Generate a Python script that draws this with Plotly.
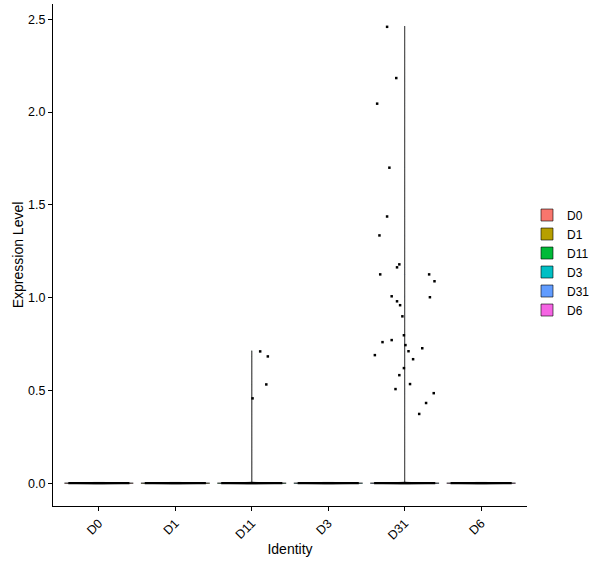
import plotly.graph_objects as go

# ---- data ----
groups = ["D0", "D1", "D11", "D3", "D31", "D6"]
colors = ["#F8766D", "#B79F00", "#00BA38", "#00BFC4", "#619CFF", "#F564E3"]
n_zero = [400, 380, 360, 420, 340, 390]          # cells with zero expression (band at 0)

d11_values = [0.710, 0.683, 0.532, 0.457]
d11_jitter = [0.11, 0.21, 0.19, 0.01]

d31_values = [2.459, 2.183, 2.045, 1.700, 1.437, 1.335, 1.179, 1.163, 1.125, 1.125,
              1.088, 1.007, 1.002, 0.980, 0.959, 0.899, 0.797, 0.771, 0.760, 0.744,
              0.727, 0.711, 0.690, 0.668, 0.620, 0.582, 0.534, 0.507, 0.485, 0.432,
              0.373]
d31_jitter = [-0.23, -0.11, -0.36, -0.20, -0.23, -0.33, -0.07, -0.10, -0.32, 0.32,
              0.39, -0.17, 0.33, -0.10, -0.06, -0.03, -0.01, -0.17, -0.29, 0.01,
              0.23, 0.05, -0.39, 0.11, -0.01, -0.07, 0.07, -0.12, 0.38, 0.28,
              0.19]

nonzero = {"D11": (d11_values, d11_jitter), "D31": (d31_values, d31_jitter)}

violin_width = 0.9
jitter_half = 0.4

fig = go.Figure()

for i, (g, c, nz) in enumerate(zip(groups, colors, n_zero)):
    vals, jit = nonzero.get(g, ([], []))
    y = [0.0] * nz + list(vals)
    fig.add_trace(go.Violin(
        x=[i] * len(y), y=y, name=g,
        fillcolor=c, line=dict(color="black", width=0.6),
        width=violin_width, scalemode="width", bandwidth=0.002,
        spanmode="soft", points=False, box_visible=False, meanline_visible=False,
        hoverinfo="skip", showlegend=True,
    ))

# jittered zero-valued cells (overlapping into a band)
for i, g in enumerate(groups):
    fig.add_trace(go.Scatter(
        x=[i - jitter_half, i + jitter_half], y=[0, 0], mode="lines",
        line=dict(color="black", width=2.2), showlegend=False, hoverinfo="skip",
    ))

# jittered non-zero cells
for g, (vals, jit) in nonzero.items():
    i = groups.index(g)
    fig.add_trace(go.Scatter(
        x=[i + j for j in jit], y=vals, mode="markers",
        marker=dict(color="black", size=2.5, symbol="square", line_width=0),
        showlegend=False, hoverinfo="skip",
    ))

fig.update_layout(
    width=600, height=568,
    margin=dict(l=53, r=73, t=4, b=62, autoexpand=False),
    paper_bgcolor="white", plot_bgcolor="white",
    font=dict(family="Liberation Sans", color="black", size=12),
    legend=dict(x=1.0, xanchor="left", y=0.485, yanchor="middle",
                font=dict(size=12), bgcolor="rgba(0,0,0,0)",
                tracegroupgap=0, itemwidth=30),
    showlegend=True,
)
fig.update_xaxes(
    range=[-0.6, 5.6], tickmode="array", tickvals=list(range(len(groups))), ticktext=groups,
    tickangle=-45, showgrid=False, zeroline=False, automargin=False,
    showline=True, linecolor="black", linewidth=1.2,
    ticks="outside", ticklen=4, tickcolor="black",
    tickfont=dict(size=12.5),
    title=dict(text="Identity", font=dict(size=14), standoff=2),
)
fig.update_yaxes(
    range=[-0.123, 2.582], tickmode="array", tickvals=[0, 0.5, 1, 1.5, 2, 2.5],
    ticktext=["0.0", "0.5", "1.0", "1.5", "2.0", "2.5"],
    showgrid=False, zeroline=False, automargin=False,
    showline=True, linecolor="black", linewidth=1.2,
    ticks="outside", ticklen=4, tickcolor="black",
    tickfont=dict(size=12.5),
    title=dict(text="Expression Level", font=dict(size=14), standoff=1),
)

fig.write_html("out.html", config={"displayModeBar": False},
               post_script="document.body.style.margin='0';document.body.style.overflow='hidden';")
